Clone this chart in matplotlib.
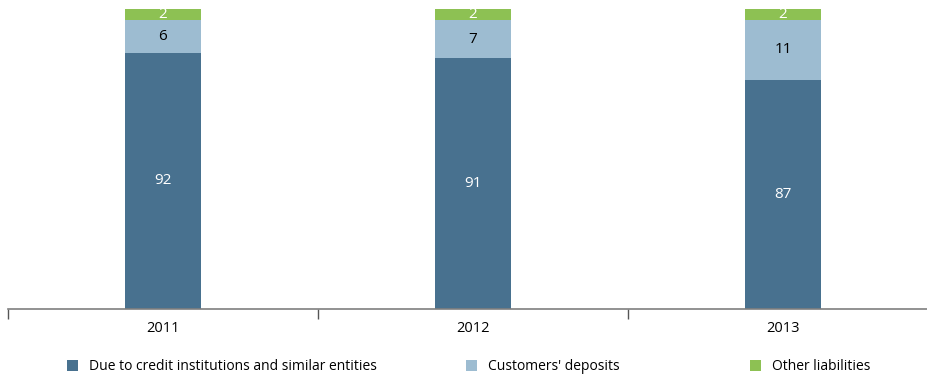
import matplotlib
matplotlib.use('Agg')
import matplotlib.pyplot as plt
from matplotlib.patches import Patch
import numpy as np

plt.rcParams['font.family'] = ['Open Sans', 'DejaVu Sans']

# data
years = ['2011', '2012', '2013']
credit = [92, 91, 87]
deposits = [6, 7, 11]
other = [2, 2, 2]
series_names = ['Due to credit institutions and similar entities',
                "Customers' deposits", 'Other liabilities']
colors = ['#48718f', '#9dbcd1', '#8dc153']
text_colors = ['white', 'black', 'white']

fig = plt.figure(figsize=(9.28, 3.78), dpi=100)
ax = fig.add_axes([8 / 928, 69 / 378, 930 / 928, 300 / 378])

x = np.arange(len(years))
ymin = 45
bottoms = np.zeros(len(years))
for vals, c, tc in zip([credit, deposits, other], colors, text_colors):
    vals = np.array(vals, dtype=float)
    ax.bar(x, vals, 0.242, bottom=bottoms, color=c, edgecolor='none', zorder=2)
    for xi, b, v in zip(x, bottoms, vals):
        lo = max(b, ymin)
        hi = b + v
        ax.text(xi, (lo + hi) / 2, f'{int(v)}', ha='center', va='center',
                color=tc, fontsize=11, zorder=3)
    bottoms += vals

ax.set_ylim(ymin, 100)
ax.set_xlim(-0.5, 2.5)
ax.set_yticks([])
for s in ['left', 'right', 'top']:
    ax.spines[s].set_visible(False)
ax.spines['bottom'].set_color('#7f7f7f')
ax.spines['bottom'].set_linewidth(1.2)
ax.spines['bottom'].set_zorder(4)

# ticks at category boundaries, labels centred
ax.set_xticks([-0.5, 0.5, 1.5, 2.5])
ax.set_xticklabels([])
ax.tick_params(axis='x', which='major', direction='out', length=7,
               width=1, color='#555555')
ax.set_xticks(x, minor=True)
ax.set_xticklabels(years, minor=True, fontsize=10.5)
ax.tick_params(axis='x', which='minor', length=0, pad=9)

# legend entries placed individually
leg_x = [67 / 928, 466 / 928, 750 / 928]
for name, c, lx in zip(series_names, colors, leg_x):
    fig.legend(handles=[Patch(facecolor=c, edgecolor='none')], labels=[name],
               loc='center left', bbox_to_anchor=(lx, 1 - 367 / 378),
               frameon=False, fontsize=10, handlelength=0.8, handleheight=0.8,
               handletextpad=0.8, borderpad=0, borderaxespad=0)

fig.savefig('out.png', dpi=100)
